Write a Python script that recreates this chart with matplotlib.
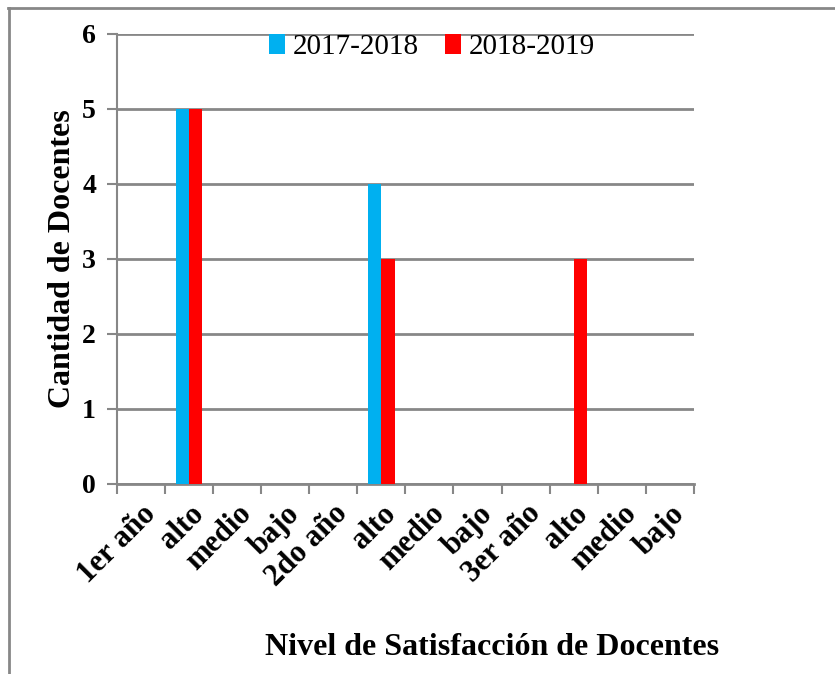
import numpy as np
import matplotlib
matplotlib.use("Agg")
import matplotlib.pyplot as plt
from matplotlib.lines import Line2D

# Data
categories = ["1er año", "alto", "medio", "bajo", "2do año", "alto", "medio", "bajo",
              "3er año", "alto", "medio", "bajo"]
series_names = ["2017-2018", "2018-2019"]
vals_1718 = [0, 5, 0, 0, 0, 4, 0, 0, 0, 0, 0, 0]
vals_1819 = [0, 5, 0, 0, 0, 3, 0, 0, 0, 3, 0, 0]
colors = ["#00B0F0", "#FF0000"]

plt.rcParams["font.family"] = ["Liberation Serif", "DejaVu Serif"]

fig = plt.figure(figsize=(8.35, 6.74), dpi=100)
ax = fig.add_axes([0.140, 0.2819, 0.691, 0.6677])

x = np.arange(len(categories))
w = 0.28
ax.bar(x - w / 2, vals_1718, width=w, color=colors[0], label=series_names[0], zorder=3)
ax.bar(x + w / 2, vals_1819, width=w, color=colors[1], label=series_names[1], zorder=3)

ax.set_xlim(-0.5, len(categories) - 0.5)
ax.set_ylim(0, 6)
ax.set_yticks(range(0, 7))

# ticks between categories, labels at centers
ax.set_xticks(np.arange(-0.5, len(categories)), minor=False)
ax.set_xticklabels([])
ax.set_xticks(x, minor=True)
ax.set_xticklabels(categories, minor=True, rotation=45, ha="right", va="top",
                   rotation_mode="anchor", fontsize=22, fontweight="bold")
ax.tick_params(axis="x", which="minor", length=0, pad=11)
ax.tick_params(axis="x", which="major", direction="out", length=7, width=1.5, color="#878787")
ax.tick_params(axis="y", direction="out", length=7, width=1.5, color="#878787",
               labelsize=20, pad=8)
for lbl in ax.get_yticklabels():
    lbl.set_fontweight("bold")

ax.yaxis.grid(True, color="#878787", linewidth=2, zorder=0)
for s in ["top", "right"]:
    ax.spines[s].set_visible(False)
ax.spines["left"].set_color("#878787")
ax.spines["left"].set_linewidth(1.5)
ax.spines["bottom"].set_color("#878787")
ax.spines["bottom"].set_linewidth(2)

ax.set_ylabel("Cantidad de Docentes", fontsize=23, fontweight="bold", labelpad=4)
ax.set_xlabel("Nivel de Satisfacción de Docentes", fontsize=23, fontweight="bold")
ax.xaxis.set_label_coords(0.65, -0.33)

leg = ax.legend(loc="center", bbox_to_anchor=(0.546, 1 - 13 / 450), ncol=2, frameon=False,
                fontsize=21, handlelength=0.55, handleheight=0.7, handletextpad=0.25,
                columnspacing=0.9)

# outer frame (top and left only)
fig.add_artist(Line2D([8 / 835, 1.0], [1 - 8 / 674, 1 - 8 / 674], transform=fig.transFigure,
                      color="#878787", linewidth=2))
fig.add_artist(Line2D([9 / 835, 9 / 835], [1 - 8 / 674, 0], transform=fig.transFigure,
                      color="#878787", linewidth=2))

fig.savefig("out.png", dpi=100)
